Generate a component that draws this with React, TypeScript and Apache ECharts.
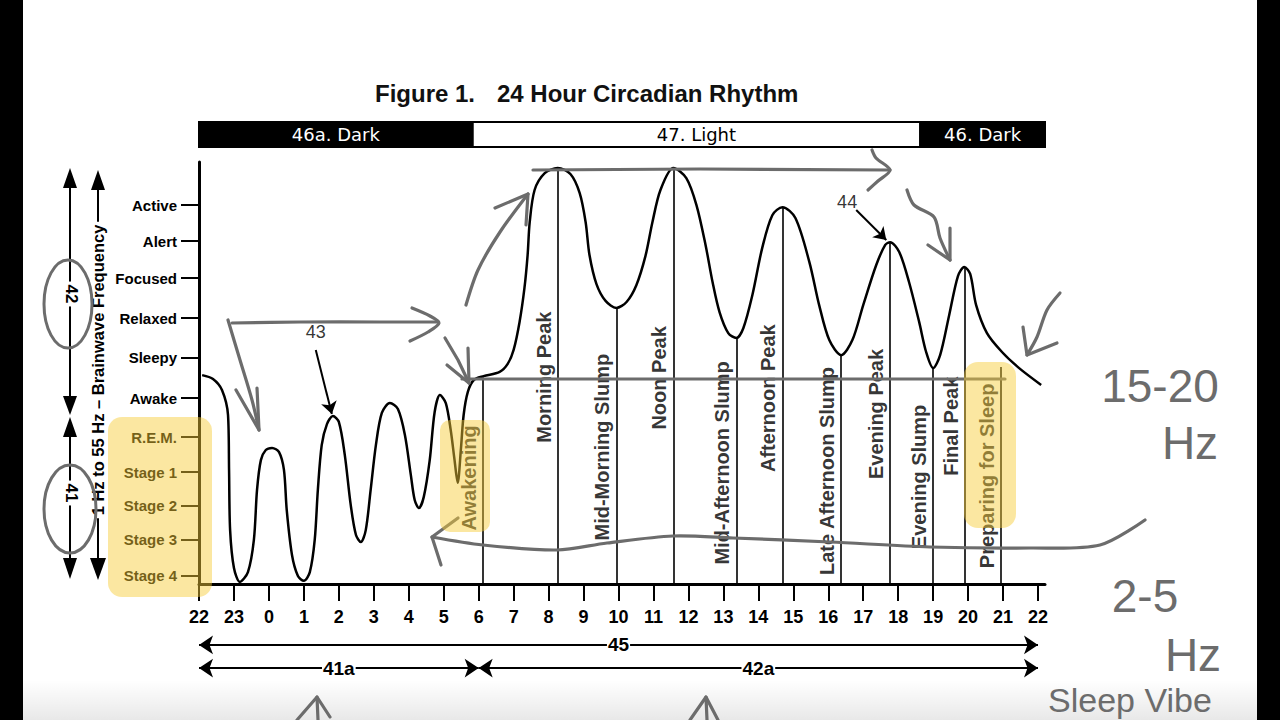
import React, { useEffect, useRef } from 'react';
import * as echarts from 'echarts';

// ---------- data ----------
const hourLabels = ['22', '23', '0', '1', '2', '3', '4', '5', '6', '7', '8', '9', '10', '11', '12', '13', '14', '15', '16', '17', '18', '19', '20', '21', '22'];

const levelNames = ['Stage 4', 'Stage 3', 'Stage 2', 'Stage 1', 'R.E.M.', 'Awake', 'Sleepy', 'Relaxed', 'Focused', 'Alert', 'Active'];
const levelValues = [0.23, 1.26, 2.23, 3.2, 4.2, 5.31, 6.46, 7.6, 8.74, 9.8, 10.83];

// hours after 22:00
const curveHours = [
  0.09, 0.4, 0.66, 0.83, 0.86, 0.89, 1.0, 1.17, 1.4, 1.57,
  1.66, 1.77, 1.91, 2.09, 2.29, 2.43, 2.51, 2.66, 2.83, 3.0,
  3.17, 3.31, 3.4, 3.51, 3.66, 3.83, 4.0, 4.17, 4.34, 4.49,
  4.63, 4.77, 4.91, 5.06, 5.23, 5.46, 5.69, 5.89, 6.06, 6.17,
  6.29, 6.43, 6.6, 6.74, 6.89, 7.06, 7.2, 7.31, 7.4, 7.49,
  7.57, 7.69, 7.86, 8.14, 8.6, 8.83, 9.0, 9.17, 9.31, 9.4,
  9.46, 9.6, 9.89, 10.26, 10.63, 10.89, 11.06, 11.17, 11.37, 11.63,
  11.94, 12.23, 12.51, 12.77, 12.97, 13.2, 13.57, 13.94, 14.23, 14.49,
  14.69, 14.89, 15.14, 15.37, 15.57, 15.83, 16.11, 16.4, 16.69, 17.06,
  17.46, 17.74, 18.03, 18.37, 18.69, 19.0, 19.37, 19.63, 19.77, 20.03,
  20.31, 20.6, 20.8, 21.0, 21.2, 21.46, 21.71, 21.89, 22.06, 22.23,
  22.54, 22.97, 23.46, 24.09,
];
const curveLevels = [
  5.97, 5.86, 5.54, 4.83, 3.26, 1.54, 0.46, 0.06, 0.34, 1.26,
  2.69, 3.54, 3.83, 3.89, 3.77, 3.26, 2.11, 0.83, 0.23, 0.09,
  0.34, 1.26, 2.69, 3.97, 4.57, 4.8, 4.63, 3.69, 2.26, 1.4,
  1.2, 1.54, 2.69, 3.97, 4.89, 5.17, 5.0, 4.26, 3.11, 2.4,
  2.17, 2.49, 3.54, 4.91, 5.4, 5.17, 4.4, 3.54, 2.89, 3.83,
  4.83, 5.49, 5.83, 5.94, 6.06, 6.29, 6.69, 7.49, 8.46, 9.4,
  10.34, 11.26, 11.74, 11.89, 11.71, 11.17, 10.34, 9.4, 8.57, 8.09,
  7.89, 8.06, 8.54, 9.37, 10.34, 11.26, 11.89, 11.6, 10.83, 9.69,
  8.63, 7.77, 7.17, 7.03, 7.31, 8.26, 9.6, 10.54, 10.77, 10.46,
  9.2, 7.97, 6.97, 6.54, 6.97, 7.97, 9.11, 9.69, 9.77, 9.49,
  8.63, 7.49, 6.63, 6.17, 6.54, 7.69, 8.8, 9.06, 8.86, 7.97,
  7.17, 6.63, 6.17, 5.69,
];

const phaseNames = ['Awakening', 'Morning Peak', 'Mid-Morning Slump', 'Noon Peak', 'Mid-Afternoon Slump', 'Afternoon Peak', 'Late Afternoon Slump', 'Evening Peak', 'Evening Slump', 'Final Peak', 'Preparing for Sleep'];
const phaseHours = [8.11, 10.26, 11.94, 13.57, 15.37, 16.69, 18.37, 19.77, 21.0, 21.9, 22.94];
const phaseTops = [5.91, 11.89, 7.89, 11.89, 7.03, 10.77, 6.54, 9.77, 6.17, 9.06, 6.2];
const phaseLabelLevels = [3.03, 5.91, 3.91, 5.89, 3.46, 5.31, 3.23, 4.86, 3.06, 4.51, 3.09];

const lightNames = ['46a. Dark', '47. Light', '46. Dark'];
const lightStarts = [0, 7.83, 20.63];
const lightEnds = [7.83, 20.63, 24.2];
const lightDark = [true, false, true];

const spanNames = ['45', '41a', '42a'];
const spanStarts = [0, 0, 8];
const spanEnds = [24, 8, 24];
const spanRows = [1.56, 0.53, 0.53];

const refNames = ['43', '44'];
const refFrom = [[3.34, 6.69], [18.8, 10.69]];
const refTo = [[3.8, 4.86], [19.66, 9.83]];
const refLabelPos = [[3.34, 7.2], [18.54, 10.91]];

// ---------- styling ----------
const FONT = 'Liberation Sans, Arial, sans-serif';
const HAND = '#6c6c6c';
const LABEL_SHIFT = 0.4;
const hourIdx = hourLabels.map((_, i) => i);

const nearestLevel = (v: number) => {
  let best = 0;
  levelValues.forEach((lv, i) => {
    if (Math.abs(lv - v) < Math.abs(levelValues[best] - v)) best = i;
  });
  return levelNames[best];
};

const stroke = (pts: number[][], w = 3.2) => ({
  type: 'polyline',
  z: 50,
  silent: true,
  shape: { points: pts, smooth: pts.length > 3 ? 0.3 : 0 },
  style: { stroke: HAND, lineWidth: w, fill: null, lineCap: 'round', lineJoin: 'round' },
});
const blackLine = (x1: number, y1: number, x2: number, y2: number) => ({
  type: 'line', z: 10, silent: true,
  shape: { x1, y1, x2, y2 },
  style: { stroke: '#000', lineWidth: 2 },
});
const head = (pts: number[][]) => ({
  type: 'polygon', z: 10, silent: true,
  shape: { points: pts },
  style: { fill: '#000' },
});
const txt = (text: string, x: number, y: number, o: any = {}) => ({
  type: 'text', z: o.z ?? 20, silent: true, x, y, rotation: o.rotation ?? 0,
  style: {
    text, fill: o.fill ?? '#000', fontSize: o.fontSize ?? 16, fontWeight: o.fontWeight ?? 'bold',
    fontFamily: o.fontFamily ?? FONT, align: o.align ?? 'center', textAlign: o.align ?? 'center',
    verticalAlign: 'middle', textVerticalAlign: 'middle',
    backgroundColor: o.bg, padding: o.bg ? [1, 3] : 0,
  },
});
const hi = (x: number, y: number, width: number, height: number, r: number) => ({
  type: 'rect', z: 60, silent: true,
  shape: { x, y, width, height, r },
  style: { fill: 'rgba(246, 204, 56, 0.47)' },
});

const handStrokes = [
  [[232, 323], [300, 322], [380, 322], [437, 322]],
  [[412, 308], [430, 316], [439, 323], [428, 332], [410, 341]],
  [[228, 320], [240, 360], [252, 400], [259, 430]],
  [[236, 390], [259, 430], [257, 388]],
  [[445, 338], [458, 360], [469, 383]],
  [[447, 365], [469, 383], [468, 348]],
  [[466, 305], [478, 270], [500, 232], [528, 194]],
  [[495, 208], [528, 194], [526, 225]],
  [[533, 170], [700, 169], [890, 170]],
  [[872, 150], [876, 158], [890, 170], [878, 181], [868, 190]],
  [[907, 190], [914, 205], [934, 217], [940, 238], [950, 260]],
  [[928, 245], [950, 260], [950, 228]],
  [[1060, 293], [1047, 310], [1037, 337], [1027, 355]],
  [[1023, 327], [1027, 355], [1057, 343]],
  [[432, 537], [483, 545], [557, 550], [607, 543], [673, 536], [733, 538], [830, 542], [930, 547], [1030, 548], [1100, 545], [1145, 520]],
  [[458, 518], [432, 537], [441, 565]],
  [[297, 720], [317, 697], [330, 717]],
  [[317, 697], [318, 720]],
  [[690, 720], [706, 697], [718, 720]],
  [[706, 697], [707, 720]],
  [[462, 379], [1005, 379]],
];

const graphicElements: any[] = [
  {
    type: 'rect', z: -10, silent: true,
    shape: { x: 0, y: 680, width: 1280, height: 40 },
    style: { fill: new echarts.graphic.LinearGradient(0, 0, 0, 1, [{ offset: 0, color: 'rgba(0,0,0,0)' }, { offset: 1, color: 'rgba(0,0,0,0.09)' }]) },
  },
  { type: 'rect', z: 100, silent: true, shape: { x: 0, y: 0, width: 23, height: 720 }, style: { fill: '#000' } },
  { type: 'rect', z: 100, silent: true, shape: { x: 1257, y: 0, width: 23, height: 720 }, style: { fill: '#000' } },
  // left brainwave arrows
  blackLine(70, 185, 70, 398),
  head([[70, 168], [63, 188], [77, 188]]),
  head([[70, 415], [63, 396], [77, 396]]),
  blackLine(70, 435, 70, 560),
  head([[70, 417], [63, 437], [77, 437]]),
  head([[70, 579], [63, 558], [77, 558]]),
  blackLine(98, 188, 98, 560),
  head([[98, 170], [91, 190], [105, 190]]),
  head([[98, 580], [90, 558], [106, 558]]),
  txt('42', 71, 294, { rotation: -Math.PI / 2, fontSize: 17, bg: '#fff' }),
  txt('41', 71, 493, { rotation: -Math.PI / 2, fontSize: 17, bg: '#fff' }),
  txt('1 Hz to 55 Hz \u2013 Brainwave Frequency', 98, 370, { rotation: Math.PI / 2, fontSize: 16.5, bg: '#fff' }),
  { type: 'ellipse', z: 50, silent: true, shape: { cx: 68, cy: 304, rx: 24, ry: 44 }, style: { stroke: HAND, lineWidth: 3, fill: null } },
  { type: 'ellipse', z: 50, silent: true, shape: { cx: 70, cy: 509, rx: 26, ry: 44 }, style: { stroke: HAND, lineWidth: 3, fill: null } },
  ...handStrokes.map((p) => stroke(p)),
  txt('15-20', 1160, 386, { fill: HAND, fontSize: 46, fontWeight: 'normal' }),
  txt('Hz', 1190, 443, { fill: HAND, fontSize: 46, fontWeight: 'normal' }),
  txt('2-5', 1145, 596, { fill: HAND, fontSize: 46, fontWeight: 'normal' }),
  txt('Hz', 1193, 655, { fill: HAND, fontSize: 46, fontWeight: 'normal' }),
  txt('Sleep Vibe', 1048, 700, { fill: HAND, fontSize: 34, fontWeight: 'normal', align: 'left' }),
  hi(108, 417, 104, 180, 14),
  hi(440, 420, 50, 112, 10),
  hi(964, 362, 52, 166, 14),
];

const option: any = {
  animation: false,
  backgroundColor: '#fff',
  title: {
    text: '{a|Figure 1.}{b|24 Hour Circadian Rhythm}',
    left: 375,
    top: 81,
    padding: 0,
    textStyle: {
      rich: {
        a: { fontSize: 24, fontWeight: 'bold', fontFamily: FONT, color: '#111', width: 122 },
        b: { fontSize: 24, fontWeight: 'bold', fontFamily: FONT, color: '#111' },
      },
    },
  },
  grid: [
    { left: 199, top: 162, width: 846, height: 422 },
    { left: 199, top: 122, width: 846, height: 25 },
    { left: 199, top: 635, width: 846, height: 45 },
  ],
  xAxis: [
    {
      gridIndex: 0, type: 'value', min: 0, max: 24.2,
      axisLine: { show: true, onZero: false, lineStyle: { color: '#000', width: 3 } },
      axisTick: { show: true, customValues: hourIdx, length: 17, lineStyle: { color: '#000', width: 2 } },
      axisLabel: {
        customValues: hourIdx,
        formatter: (v: number) => hourLabels[Math.round(v)] ?? '',
        margin: 24, fontSize: 18, fontWeight: 'bold', color: '#000', fontFamily: FONT,
      },
      splitLine: { show: false },
    },
    { gridIndex: 1, type: 'value', min: 0, max: 24.2, show: false },
    { gridIndex: 2, type: 'value', min: 0, max: 24.2, show: false },
  ],
  yAxis: [
    {
      gridIndex: 0, type: 'value', min: 0, max: 12.06,
      axisLine: { show: true, lineStyle: { color: '#000', width: 3 } },
      axisTick: { show: true, customValues: levelValues, length: 18, lineStyle: { color: '#000', width: 2 } },
      axisLabel: {
        customValues: levelValues,
        formatter: (v: number) => nearestLevel(v),
        margin: 22, fontSize: 15, fontWeight: 'bold', color: '#000', fontFamily: FONT,
      },
      splitLine: { show: false },
    },
    { gridIndex: 1, type: 'value', min: 0, max: 1, show: false },
    { gridIndex: 2, type: 'value', min: 0, max: 2, show: false },
  ],
  series: [
    {
      type: 'line', xAxisIndex: 0, yAxisIndex: 0, z: 3,
      data: curveHours.map((h, i) => [h, curveLevels[i]]),
      smooth: 0.3, symbol: 'none',
      lineStyle: { color: '#000', width: 2.5 },
      markLine: {
        silent: true, symbol: ['none', 'none'],
        label: { show: false },
        lineStyle: { color: '#000', width: 1.6, type: 'solid' },
        data: phaseHours.map((h, i) => [{ coord: [h, phaseTops[i]] }, { coord: [h, 0] }]),
      },
    },
    {
      type: 'scatter', xAxisIndex: 0, yAxisIndex: 0, symbolSize: 1,
      itemStyle: { color: 'transparent' }, silent: true,
      data: phaseHours.map((h, i) => [h - LABEL_SHIFT, phaseLabelLevels[i], phaseNames[i]]),
      label: {
        show: true, position: 'inside', rotate: 90,
        formatter: (p: any) => p.data[2],
        fontSize: 20, fontWeight: 'bold', color: '#000', fontFamily: FONT,
      },
    },
    {
      type: 'line', xAxisIndex: 0, yAxisIndex: 0, data: [],
      markLine: {
        silent: true, symbol: ['none', 'arrow'], symbolSize: 12,
        label: { show: false },
        lineStyle: { color: '#000', width: 2, type: 'solid' },
        data: refNames.map((_, i) => [{ coord: refFrom[i] }, { coord: refTo[i] }]),
      },
    },
    {
      type: 'scatter', xAxisIndex: 0, yAxisIndex: 0, symbolSize: 1,
      itemStyle: { color: 'transparent' }, silent: true,
      data: refNames.map((n, i) => [refLabelPos[i][0], refLabelPos[i][1], n]),
      label: {
        show: true, position: 'inside', formatter: (p: any) => p.data[2],
        fontSize: 18, color: '#000', fontFamily: FONT,
      },
    },
    {
      type: 'line', xAxisIndex: 1, yAxisIndex: 1, data: [],
      markArea: {
        silent: true,
        label: { show: true, position: 'inside', fontSize: 18, fontFamily: 'DejaVu Sans' },
        data: lightNames.map((n, i) => [
          {
            name: n, xAxis: lightStarts[i],
            itemStyle: { color: lightDark[i] ? '#000' : '#fff', borderColor: '#000', borderWidth: 2, opacity: 1 },
            label: { color: lightDark[i] ? '#fff' : '#000' },
          },
          { xAxis: lightEnds[i] },
        ]),
      },
    },
    {
      type: 'line', xAxisIndex: 2, yAxisIndex: 2, data: [],
      markLine: {
        silent: true, symbol: ['arrow', 'arrow'], symbolSize: 14,
        lineStyle: { color: '#000', width: 2, type: 'solid' },
        label: {
          show: true, position: 'middle', distance: 0, verticalAlign: 'middle',
          formatter: (p: any) => p.name, backgroundColor: '#fff', padding: [0, 1],
          fontSize: 19, fontWeight: 'bold', color: '#000', fontFamily: FONT,
        },
        data: spanNames.map((n, i) => [
          { name: n, coord: [spanStarts[i], spanRows[i]] },
          { coord: [spanEnds[i], spanRows[i]] },
        ]),
      },
    },
  ],
  graphic: { elements: graphicElements },
};

export default function App() {
  const ref = useRef<HTMLDivElement>(null);
  useEffect(() => {
    document.body.style.margin = '0';
    const chart = echarts.init(ref.current!, null, { renderer: 'svg' });
    chart.setOption(option);
    return () => chart.dispose();
  }, []);
  return <div ref={ref} style={{ width: 1280, height: 720, background: '#fff' }} />;
}
